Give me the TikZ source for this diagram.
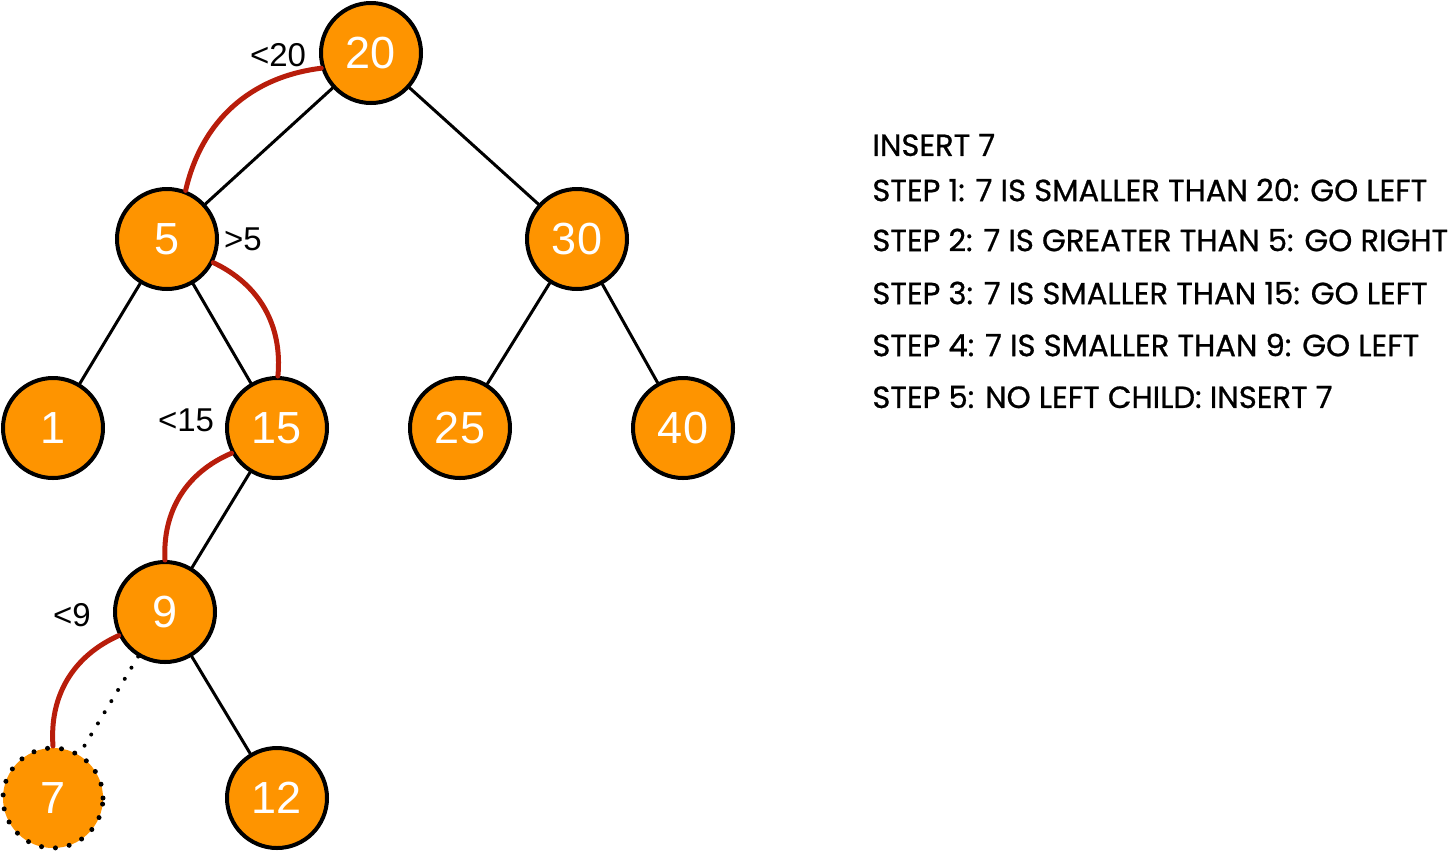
\documentclass[tikz,border=0pt]{standalone}
\usepackage{fontspec}
\setmainfont{Liberation Sans}
\newfontfamily\stepfont{Poppins}[FakeBold=0.8]
\definecolor{keyorange}{HTML}{FE9400}
\definecolor{searchred}{HTML}{B81D0B}
\begin{document}
\begin{tikzpicture}[x=0.5pt, y=0.5pt, line join=round, line cap=round,
  key/.style={circle, draw=black, line width=2pt, fill=keyorange, minimum size=50pt, inner sep=0pt, text=white, font=\fontsize{22.5}{22.5}\selectfont},
  edge/.style={line width=1.5pt},
  searchpath/.style={line width=2.5pt, searchred},
  cmp/.style={font=\fontsize{16.5}{16.5}\selectfont},
  steptext/.style={anchor=west, inner sep=0pt, font=\stepfont\fontsize{15.3}{15.3}\selectfont}]
 \useasboundingbox (0,0) rectangle (1455,-852);
 % tree
 \foreach \k/\x/\y in {20/371/53, 5/167/239, 30/577/239, 1/53/428, 15/277/428, 25/460/428, 40/683/428, 9/165/612, 12/277/798}
   \node[key] (n\k) at (\x,-\y) {\k};
 \node[key, draw=none] (n7) at (53,-798) {7};
 \draw[line width=2.5pt, dash pattern=on 0pt off 7pt] (n7.center) circle (25pt);
 \foreach \a/\b in {20/5, 20/30, 5/1, 5/15, 30/25, 30/40, 15/9, 9/12}
   \draw[edge] (n\a) -- (n\b);
 \draw[line width=2pt, dash pattern=on 0pt off 6.5pt] (n9) -- (n7);
 % search path
 \draw[searchpath] (n20.197) to[bend right=35] (n5.69);
 \draw[searchpath] (n5.333) to[bend left=35] (n15.89);
 \draw[searchpath] (n15.209) to[bend right=35] (n9.90);
 \draw[searchpath] (n9.207) to[bend right=35] (n7.90);
 \node[cmp] (c20) at (278,-55) {<20};
 \node[cmp] (c5) at (243,-239) {>5};
 \node[cmp] (c15) at (186,-420) {<15};
 \node[cmp] (c9) at (72,-615) {<9};
 % steps
 \foreach \i/\y/\t in {0/145/INSERT 7, 1/190/STEP 1: 7 IS SMALLER THAN 20: GO LEFT, 2/240/STEP 2: 7 IS GREATER THAN 5: GO RIGHT, 3/293/STEP 3: 7 IS SMALLER THAN 15: GO LEFT, 4/345/STEP 4: 7 IS SMALLER THAN 9: GO LEFT, 5/397/STEP 5: NO LEFT CHILD: INSERT 7}
   \node[steptext] (step\i) at (872,-\y) {\t};
\end{tikzpicture}
\end{document}
